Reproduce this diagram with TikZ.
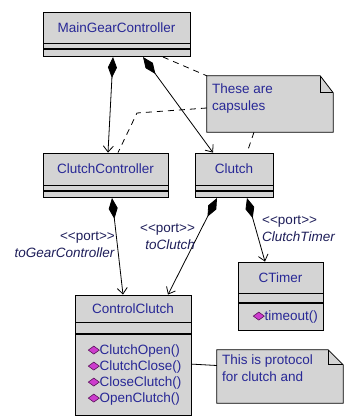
\documentclass[tikz,border=0pt]{standalone}
\usepackage{fontspec}
\setmainfont{Liberation Sans}
\usepackage{tikz}
\usetikzlibrary{positioning,arrows.meta}

\definecolor{boxgray}{RGB}{212,212,212}
\definecolor{nameblue}{RGB}{40,40,150}
\definecolor{labelnavy}{RGB}{30,30,90}
\definecolor{opmagenta}{RGB}{205,60,205}
\definecolor{opdark}{RGB}{90,20,90}

\newcommand{\opicon}{\tikz[baseline=-0.5pt]\draw[fill=opmagenta,draw=opdark,line width=0.6pt] (0pt,4pt) -- (5.5pt,8pt) -- (11pt,4pt) -- (5.5pt,0pt) -- cycle;}
\newcommand{\portword}{<{}<port>{}>}

\tikzset{
  classbox/.style={draw=black, fill=boxgray, line width=0.8pt, inner sep=0pt},
  classname/.style={classbox, text=nameblue},
  opsbox/.style={classbox, text=nameblue, align=left, font=\fontsize{13.5}{16}\selectfont},
  noteframe/.style={draw=none, inner sep=0pt},
  notebox/.style={draw=black, fill=boxgray, line width=0.8pt},
  notetext/.style={text=nameblue, align=left, inner sep=0pt, font=\fontsize{13.5}{17}\selectfont},
  portlabel/.style={text=labelnavy, inner sep=2pt, font=\fontsize{13.5}{17}\selectfont},
  comp/.style={line width=0.8pt, {Diamond[length=21pt,width=9pt]}-{Straight Barb[length=6pt,width=10pt]}},
  notelink/.style={line width=0.8pt, dash pattern=on 6pt off 5pt}
}

\begin{document}
\begin{tikzpicture}[x=1pt,y=-1pt,font=\fontsize{13.5}{17}\selectfont]
  \fill[white] (0,0) rectangle (345,418);
  \useasboundingbox (0,0) rectangle (345,418);

  % classes
  \node (mgc) [classname, minimum width=147pt, minimum height=31pt] at (116.5,27.5) {MainGearController};
  \node (mgcattr) [classbox, minimum width=147pt, minimum height=5pt, below=0pt of mgc] {};
  \node (mgcops) [classbox, minimum width=147pt, minimum height=7pt, below=0pt of mgcattr] {};

  \node (cctl) [classname, minimum width=125pt, minimum height=32pt] at (105.5,169) {ClutchController};
  \node (cctlattr) [classbox, minimum width=125pt, minimum height=5pt, below=0pt of cctl] {};
  \node (cctlops) [classbox, minimum width=125pt, minimum height=6pt, below=0pt of cctlattr] {};

  \node (clutch) [classname, minimum width=78pt, minimum height=32pt] at (234,169) {Clutch};
  \node (clutchattr) [classbox, minimum width=78pt, minimum height=5pt, below=0pt of clutch] {};
  \node (clutchops) [classbox, minimum width=78pt, minimum height=6pt, below=0pt of clutchattr] {};

  \node (ctrl) [classname, minimum width=116pt, minimum height=27pt] at (133,308.5) {ControlClutch};
  \node (ctrlattr) [classbox, minimum width=116pt, minimum height=11pt, below=0pt of ctrl] {};
  \node (ctrlops) [opsbox, minimum height=81pt, text width=90pt, inner xsep=13pt, below=0pt of ctrlattr]
    {\opicon ClutchOpen()\\\opicon ClutchClose()\\\opicon CloseClutch()\\\opicon OpenClutch()};

  \node (ctimer) [classname, minimum width=85pt, minimum height=31pt] at (280.5,277.5) {CTimer};
  \node (ctimerattr) [classbox, minimum width=85pt, minimum height=9pt, below=0pt of ctimer] {};
  \node (ctimerops) [opsbox, minimum height=27pt, text width=55pt, inner xsep=15pt, below=0pt of ctimerattr]
    {\opicon timeout()};

  % notes
  \node (capsnote) [noteframe, minimum width=126pt, minimum height=56pt] at (270,104) {};
  \draw[notebox] (capsnote.north west) -- ([xshift=-13pt]capsnote.north east) -- ([yshift=-17pt]capsnote.north east)
    -- (capsnote.south east) -- (capsnote.south west) -- cycle;
  \draw[line width=0.8pt] ([xshift=-13pt]capsnote.north east) |- ([yshift=-17pt]capsnote.north east);
  \node (capstext) [notetext, anchor=north west] at (212,84) {These are\\capsules};

  \node (protonote) [noteframe, minimum width=126pt, minimum height=53pt] at (280,376.5) {};
  \draw[notebox] (protonote.north west) -- ([xshift=-15pt]protonote.north east) -- ([yshift=-15pt]protonote.north east)
    -- (protonote.south east) -- (protonote.south west) -- cycle;
  \draw[line width=0.8pt] ([xshift=-15pt]protonote.north east) |- ([yshift=-15pt]protonote.north east);
  \node (prototext) [notetext, anchor=north west] at (222,355) {This is protocol\\for clutch and};

  % composition
  \draw[comp] ([xshift=-3.5pt]mgcops.south) -- ([xshift=2.5pt]cctl.north);
  \draw[comp] ([xshift=26.5pt]mgcops.south) -- ([xshift=-21pt]clutch.north);
  \draw[comp] ([xshift=6.5pt]cctlops.south) -- node[portlabel, anchor=east, align=right, pos=0.48]
    {\portword\\\textit{toGearController}} ([xshift=-10pt]ctrl.north);
  \draw[comp] ([xshift=-17pt]clutchops.south) -- node[portlabel, anchor=east, align=right, pos=0.4]
    {\portword\\\textit{toClutch}} ([xshift=35pt]ctrl.north);
  \draw[comp] ([xshift=13pt]clutchops.south) -- node[portlabel, anchor=west, align=left, pos=0.49, xshift=4pt]
    {\portword\\\textit{ClutchTimer}} ([xshift=-15.5pt]ctimer.north);

  % note links
  \coordinate (capsbend) at (137,113);
  \draw[notelink] ([xshift=46.5pt]mgcops.south) -- (capsnote.north west);
  \draw[notelink] ([yshift=-4pt]capsnote.west) -- (capsbend) -- ([xshift=12.5pt]cctl.north);
  \draw[notelink] ([xshift=-16pt]capsnote.south) -- ([xshift=13pt]clutch.north);
  \draw[line width=0.8pt] ([yshift=11pt]ctrlops.east) -- ([yshift=11pt]protonote.west);
\end{tikzpicture}
\end{document}
